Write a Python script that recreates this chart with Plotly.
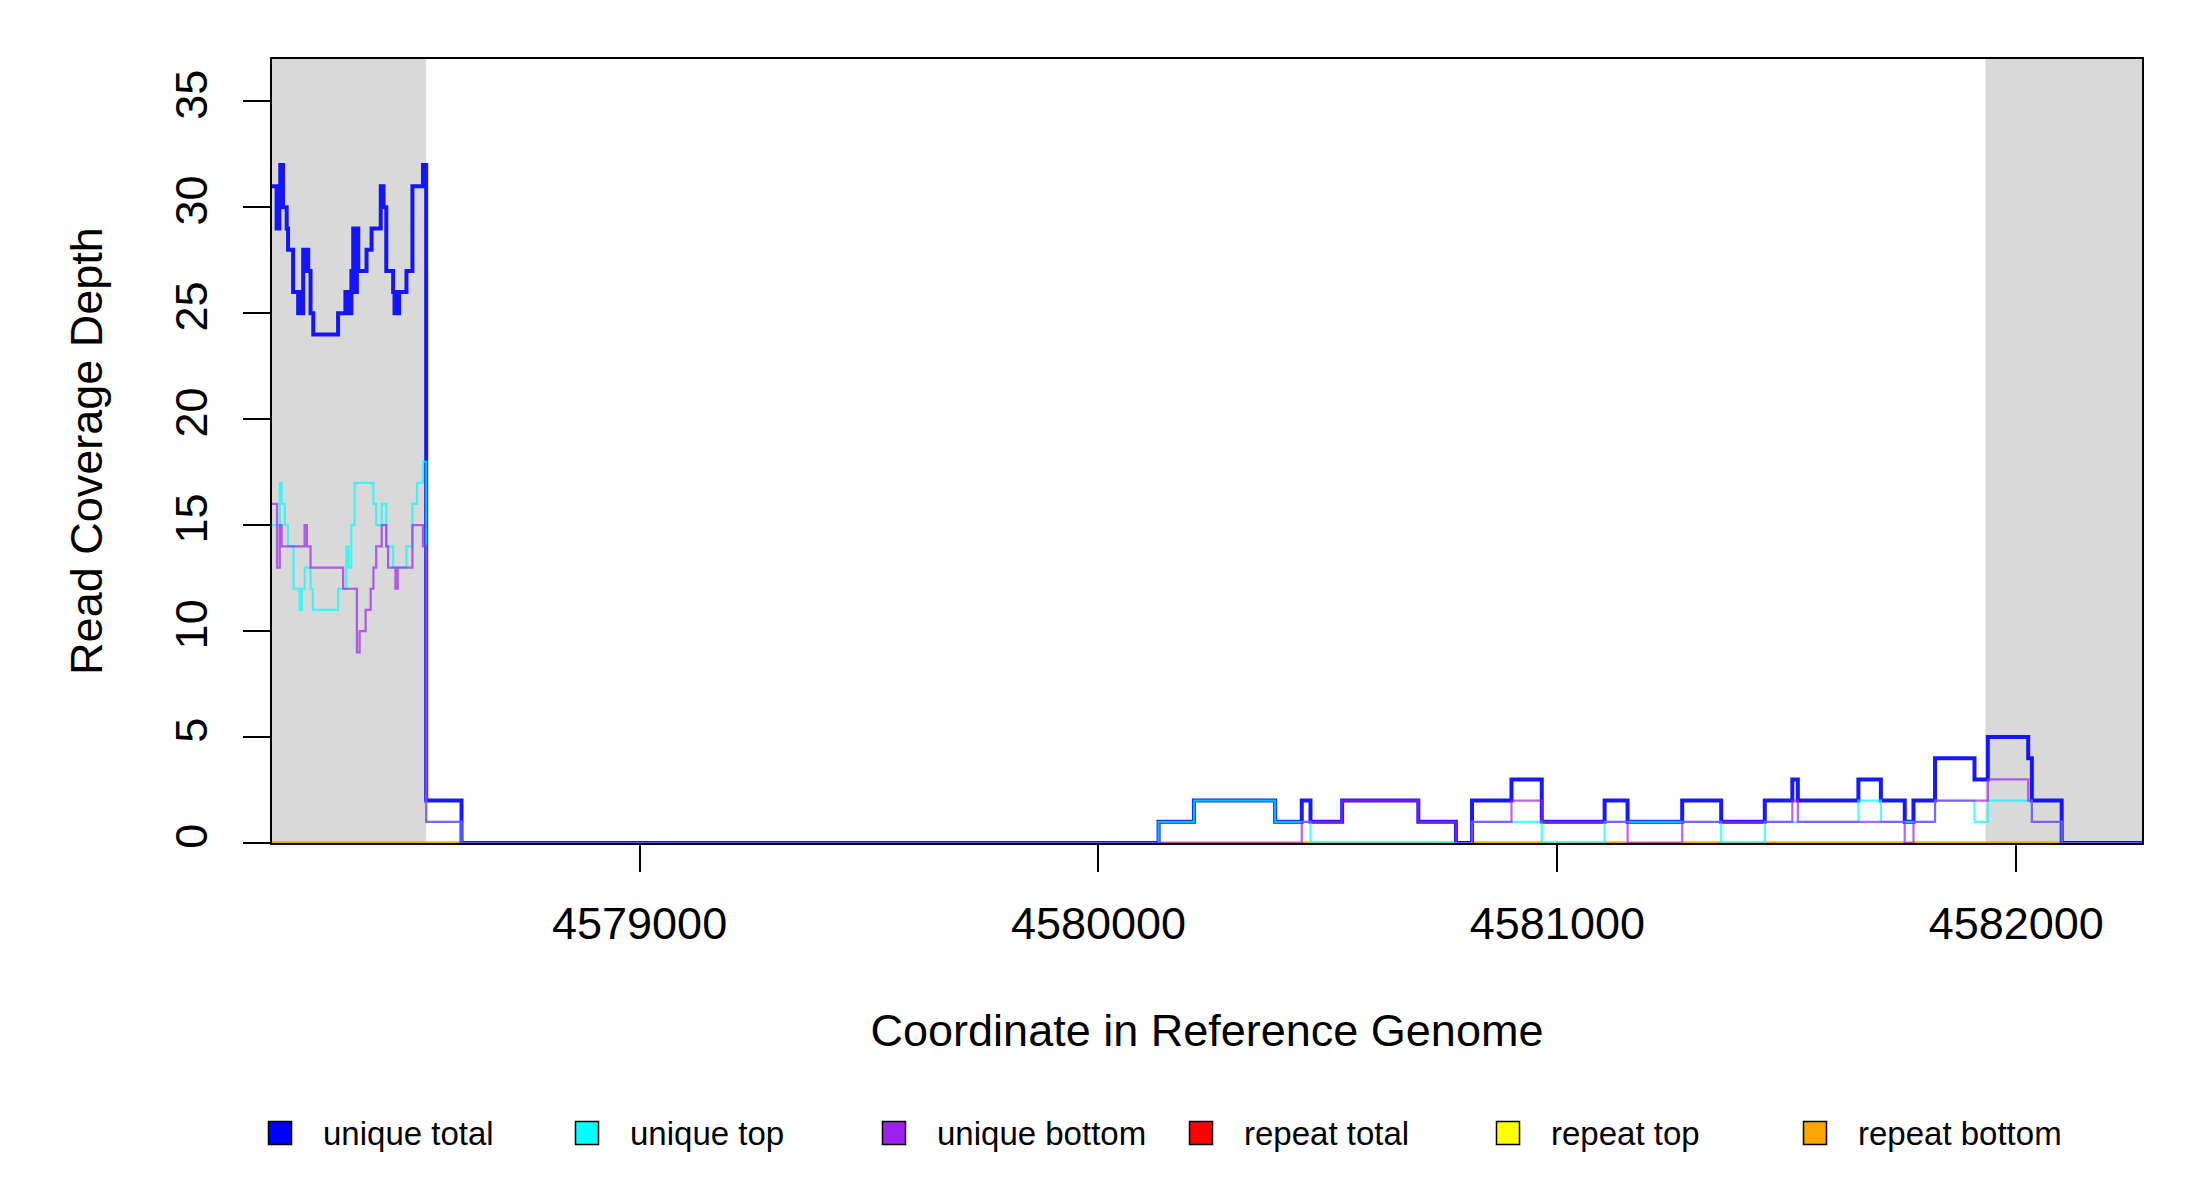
import plotly.graph_objects as go

# Read depth per position (step changes)
ut_x = [4578199, 4578209, 4578211, 4578213, 4578215, 4578217, 4578219, 4578221, 4578223, 4578231,
        4578234, 4578245, 4578256, 4578258, 4578260, 4578262, 4578264, 4578267, 4578270, 4578272,
        4578274, 4578276, 4578278, 4578283, 4578289, 4578343, 4578359, 4578361, 4578363, 4578365,
        4578367, 4578369, 4578372, 4578376, 4578378, 4578380, 4578382, 4578384, 4578387, 4578405,
        4578416, 4578436, 4578438, 4578440, 4578442, 4578448, 4578463, 4578466, 4578468, 4578470,
        4578472, 4578474, 4578476, 4578492, 4578505, 4578528, 4578530, 4578532, 4578535, 4578612,
        4580131, 4580208, 4580385, 4580443, 4580462, 4580531, 4580697, 4580779, 4580814, 4580900,
        4580966, 4581103, 4581153, 4581272, 4581357, 4581452, 4581512, 4581524, 4581656, 4581705,
        4581757, 4581776, 4581823, 4581909, 4581938, 4582026, 4582034, 4582099, 4582274]
ut_y = [31, 29, 31, 29, 31, 32, 30, 32, 30, 29,
        28, 26, 25, 26, 25, 26, 25, 28, 27, 28,
        27, 28, 27, 25, 24, 25, 26, 25, 26, 25,
        26, 25, 27, 29, 26, 29, 26, 29, 27, 28,
        29, 31, 30, 31, 30, 27, 26, 25, 26, 25,
        26, 25, 26, 27, 31, 32, 31, 32, 2, 0,
        1, 2, 1, 2, 1, 2, 1, 0, 2, 3,
        1, 2, 1, 2, 1, 2, 3, 2, 3, 2,
        1, 2, 4, 3, 5, 4, 2, 0, 0]

top_x = [4578199, 4578216, 4578220, 4578227, 4578234, 4578246, 4578259, 4578264, 4578270, 4578283,
         4578288, 4578343, 4578361, 4578366, 4578372, 4578379, 4578420, 4578426, 4578438, 4578448,
         4578463, 4578492, 4578505, 4578515, 4578528, 4578535, 4578612, 4580131, 4580208, 4580385,
         4580462, 4580814, 4580966, 4581103, 4581357, 4581452, 4581656, 4581705, 4581823, 4581909,
         4581938, 4582034, 4582099, 4582274]
top_y = [15, 17, 16, 15, 14, 12, 11, 12, 13, 12,
         11, 12, 14, 13, 15, 17, 16, 15, 16, 14,
         13, 14, 16, 17, 18, 1, 0, 1, 2, 1,
         0, 1, 0, 1, 0, 1, 2, 1, 2, 1,
         2, 1, 0, 0]

bot_x = [4578199, 4578210, 4578216, 4578220, 4578270, 4578275, 4578283, 4578354, 4578384, 4578390,
         4578403, 4578414, 4578420, 4578426, 4578438, 4578448, 4578452, 4578468, 4578473, 4578505,
         4578528, 4578535, 4578612, 4580443, 4580531, 4580697, 4580779, 4580814, 4580900, 4580966,
         4581153, 4581272, 4581512, 4581524, 4581757, 4581776, 4581823, 4581938, 4582026, 4582034,
         4582099, 4582274]
bot_y = [16, 13, 15, 14, 15, 14, 13, 12, 9, 10,
         11, 12, 13, 14, 15, 14, 13, 12, 13, 15,
         14, 1, 0, 1, 2, 1, 0, 1, 2, 1,
         0, 1, 2, 1, 0, 1, 2, 3, 2, 1,
         0, 0]

# no repeat reads anywhere
rep_x = [4578199, 4582274]
rep_total_y = [0, 0]
rep_top_y = [0, 0]
rep_bot_y = [0, 0]

# flanking regions shaded grey
flank_start = [4578199, 4581933]
flank_end = [4578535, 4582274]

x_ticks = [4579000, 4580000, 4581000, 4582000]
y_ticks = [0, 5, 10, 15, 20, 25, 30, 35]

legend_labels = ['unique total', 'unique top', 'unique bottom',
                 'repeat total', 'repeat top', 'repeat bottom']
legend_colors = ['#0000ff', '#00ffff', '#a020f0', '#ff0000', '#ffff00', '#ffa500']

FONT = 'Liberation Sans'
W, H = 2200, 1200
ML, MR, MT, MB = 272, 58, 59, 357
plot_w = W - ML - MR
plot_h = H - MT - MB

fig = go.Figure()

for x0, x1 in zip(flank_start, flank_end):
    fig.add_vrect(x0=x0, x1=x1, fillcolor='#d9d9d9', line_width=0, layer='below')

# repeat lines first, unique ones drawn over them with some transparency
for ys, col in [(rep_total_y, '#ff0000'), (rep_top_y, '#ffff00'), (rep_bot_y, '#ffa500')]:
    fig.add_trace(go.Scatter(x=rep_x, y=ys, mode='lines', showlegend=False,
                             line=dict(shape='hv', color=col, width=2.5)))

fig.add_trace(go.Scatter(x=ut_x, y=ut_y, mode='lines', showlegend=False, opacity=0.9,
                         line=dict(shape='hv', color='#0000ff', width=4)))
fig.add_trace(go.Scatter(x=top_x, y=top_y, mode='lines', showlegend=False, opacity=0.7,
                         line=dict(shape='hv', color='#00ffff', width=2.2)))
fig.add_trace(go.Scatter(x=bot_x, y=bot_y, mode='lines', showlegend=False, opacity=0.7,
                         line=dict(shape='hv', color='#a020f0', width=2.2)))

# legend drawn by hand (square keys in a row under the plot)
cy = (MT + plot_h - 1133) / plot_h
hw = 11.5 / plot_w
hh = 11.5 / plot_h
for i, (lab, col) in enumerate(zip(legend_labels, legend_colors)):
    cx = (280 - ML + i * 307) / plot_w
    fig.add_shape(type='rect', xref='paper', yref='paper',
                  x0=cx - hw, x1=cx + hw, y0=cy - hh, y1=cy + hh,
                  fillcolor=col, line=dict(color='black', width=1.5))
    fig.add_annotation(xref='paper', yref='paper', x=(321 - ML + i * 307) / plot_w, y=cy,
                       xanchor='left', yanchor='middle', showarrow=False, text=lab,
                       font=dict(family=FONT, size=33, color='black'))

axis_common = dict(ticks='outside', ticklen=27, tickwidth=2, tickcolor='black',
                   showline=True, linecolor='black', linewidth=1.5, mirror=True,
                   showgrid=False, zeroline=False,
                   tickfont=dict(family=FONT, size=45, color='black'))

fig.update_xaxes(range=[4578199, 4582274], tickvals=x_ticks,
                 ticktext=[str(t) for t in x_ticks], ticklabelstandoff=13,
                 title=dict(text='Coordinate in Reference Genome', standoff=67,
                            font=dict(family=FONT, size=45, color='black')),
                 **axis_common)
fig.update_yaxes(range=[0, 37], tickvals=y_ticks, tickangle=-90, ticklabelstandoff=18,
                 title=dict(text='Read Coverage Depth', standoff=50,
                            font=dict(family=FONT, size=45, color='black')),
                 **axis_common)

fig.update_layout(width=W, height=H, margin=dict(l=ML, r=MR, t=MT, b=MB),
                  plot_bgcolor='white', paper_bgcolor='white',
                  font=dict(family=FONT, color='black'))

fig.write_html('out.html', config={'displayModeBar': False},
               post_script="document.body.style.margin='0';")
